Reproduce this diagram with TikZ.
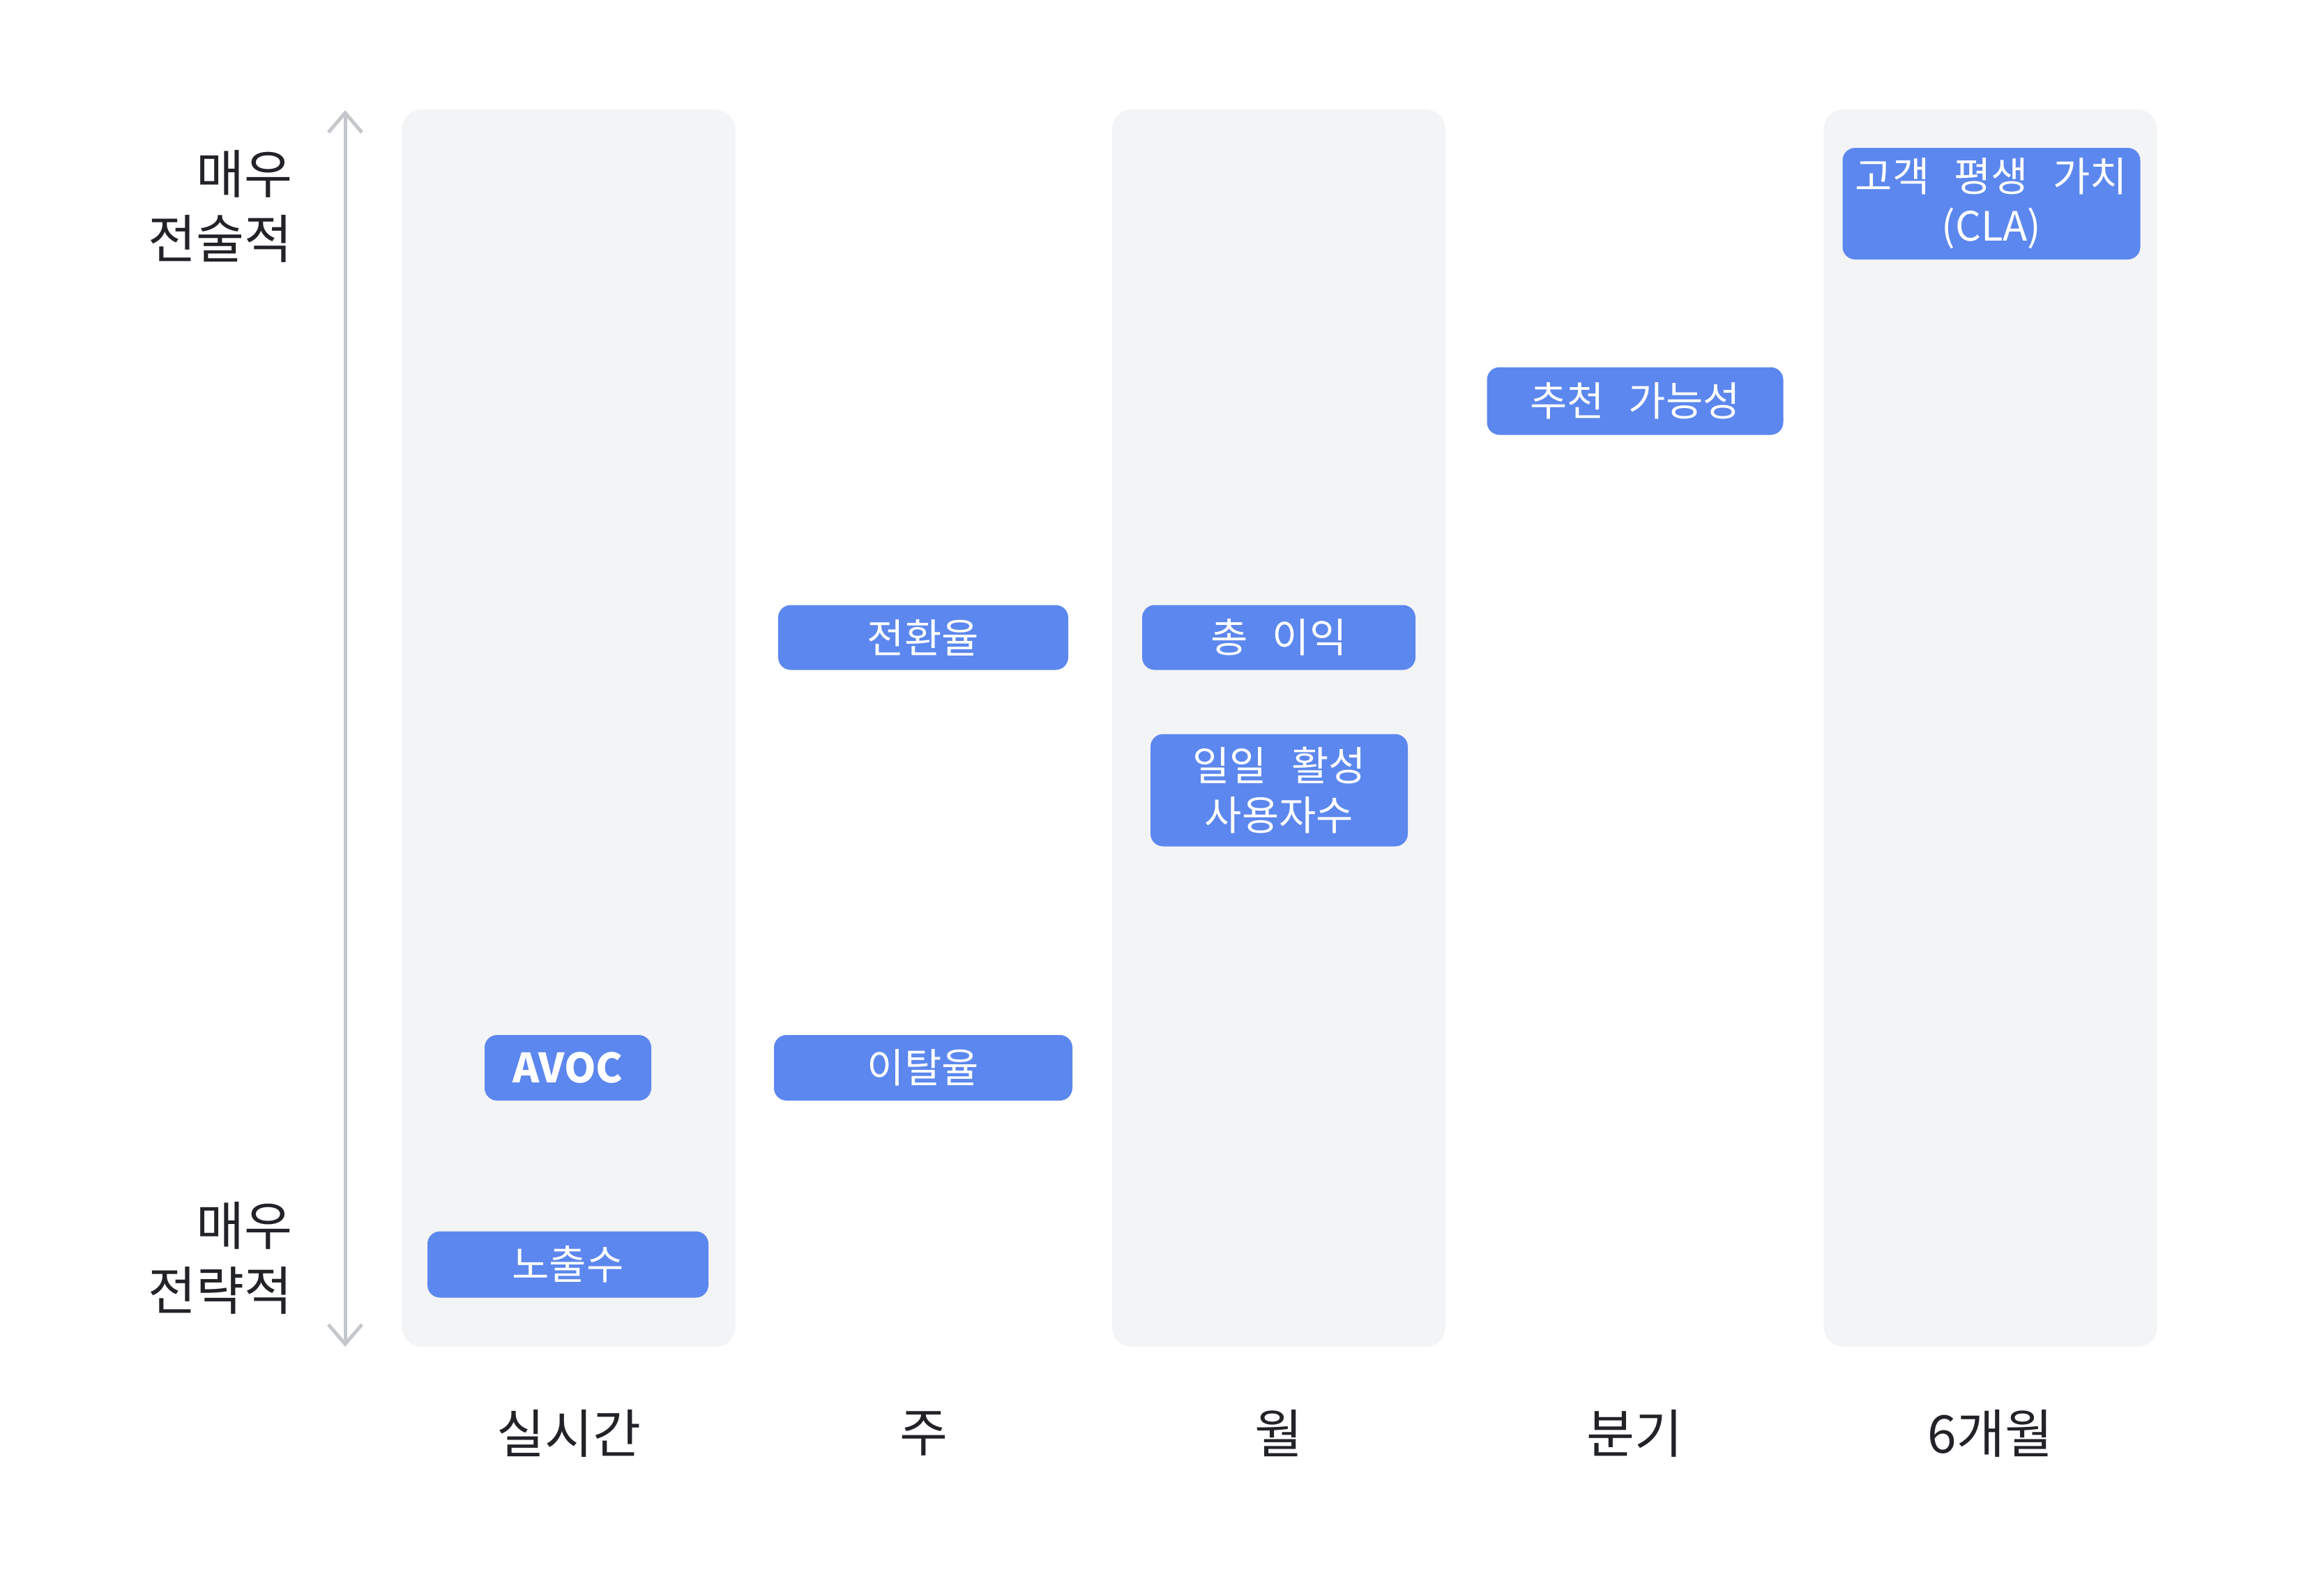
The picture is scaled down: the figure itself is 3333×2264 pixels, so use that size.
\documentclass[tikz,border=0pt]{standalone}
\usepackage{fontspec}
\setmainfont[WordSpace=2.7]{Noto Sans CJK KR}
\usetikzlibrary{arrows.meta}
\definecolor{colgray}{HTML}{F3F4F6}
\definecolor{boxblue}{HTML}{5C87EE}
\definecolor{axisgray}{HTML}{C4C7CB}
\definecolor{labeldark}{HTML}{222327}
\tikzset{
  colbox/.style={fill=colgray, draw=none, rounded corners=28pt, minimum width=478pt, minimum height=1774pt, inner sep=0pt},
  bluebox/.style={fill=boxblue, draw=none, rounded corners=18pt, inner sep=0pt, text=white, align=center,
    font=\fontsize{58}{71}\selectfont},
  axislabel/.style={text=labeldark, align=right, anchor=east, inner sep=0pt, font=\fontsize{75}{93}\selectfont},
  timelabel/.style={text=labeldark, inner sep=0pt, font=\fontsize{75}{93}\selectfont},
  axisline/.style={draw=axisgray, line width=5pt, {Straight Barb[length=28pt,width=48pt,line width=5pt]}-{Straight Barb[length=28pt,width=48pt,line width=5pt]}}
}
\begin{document}
\begin{tikzpicture}[x=1pt,y=-1pt]
\useasboundingbox (0,0) rectangle (3333,2264);
% columns
\node[colbox] (c1) at (815.5,1044) {};
\node[colbox] (c3) at (1834,1044) {};
\node[colbox] (c5) at (2854.5,1044) {};
% axis
\coordinate (atop) at (495,158);
\coordinate (abot) at (495,1931);
\draw[axisline] (abot) -- (atop);
\node[axislabel] (ltop) at (420,296) {매우\\전술적};
\node[axislabel] (lbot) at (420,1804) {매우\\전략적};
% time labels
\node[timelabel] (t1) at (815.5,2055) {실시간};
\node[timelabel] (t2) at (1325,2055) {주};
\node[timelabel] (t3) at (1834,2055) {월};
\node[timelabel] (t4) at (2344,2055) {분기};
\node[timelabel] (t5) at (2854.5,2055) {6개월};
% metric boxes
\node[bluebox, minimum width=427pt, minimum height=160pt] (cla) at (2856,292) {고객 평생 가치\\(CLA)};
\node[bluebox, minimum width=425pt, minimum height=97pt] (nps) at (2345,575) {추천 가능성};
\node[bluebox, minimum width=416pt, minimum height=93pt] (conv) at (1324,914) {전환율};
\node[bluebox, minimum width=392pt, minimum height=93pt] (gp) at (1834,914) {총 이익};
\node[bluebox, minimum width=369pt, minimum height=161pt] (dau) at (1834.5,1133) {일일 활성\\사용자수};
\node[bluebox, minimum width=428pt, minimum height=94pt] (churn) at (1324,1531) {이탈율};
\node[bluebox, minimum width=239pt, minimum height=94pt, font=\fontsize{58}{71}\selectfont\bfseries] (avoc) at (814.5,1531) {AVOC};
\node[bluebox, minimum width=403pt, minimum height=95pt] (imp) at (814.5,1813) {노출수};
\end{tikzpicture}
\end{document}
